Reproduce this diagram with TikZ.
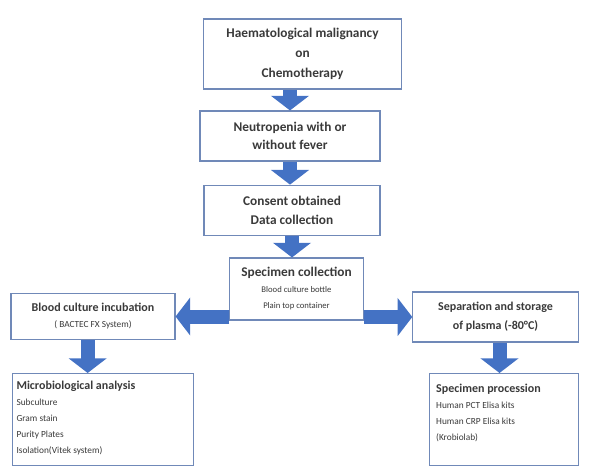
\documentclass[tikz,border=0pt]{standalone}
\usepackage{fontspec}
\setmainfont{Carlito}
\usetikzlibrary{arrows.meta}
\definecolor{boxline}{HTML}{7089B8}
\definecolor{arrowblue}{HTML}{4472C4}
\definecolor{txt}{HTML}{3A3A3A}
\begin{document}
\begin{tikzpicture}[x=0.75pt,y=-0.75pt,
  box/.style={draw=boxline,line width=0.8pt,fill=white,text=txt,align=center,inner sep=2pt},
  bigarrow/.style={draw=arrowblue,line width=10.5pt,-{Triangle[width=28pt,length=11pt]}}]
\useasboundingbox(0,0)rectangle(593,467);
%
\node[box,minimum width=149pt,minimum height=52.5pt,font=\bfseries\fontsize{10}{15}\selectfont](malig)at(302.5,54){Haematological malignancy\\on\\Chemotherapy};
\node[box,minimum width=135pt,minimum height=37.5pt,font=\bfseries\fontsize{10}{14}\selectfont](neutro)at(290,136){Neutropenia with or\\without fever};
\node[box,minimum width=132pt,minimum height=38pt,font=\bfseries\fontsize{10}{14}\selectfont](consent)at(292,210.5){Consent obtained\\Data collection};
\node[box,minimum width=100pt,minimum height=46.5pt](spec)at(296.5,289){{\bfseries\fontsize{10}{13}\selectfont Specimen collection}\\{\fontsize{6.5}{11}\selectfont Blood culture bottle}\\{\fontsize{6.5}{10}\selectfont Plain top container}};
\node[box,minimum width=123pt,minimum height=35pt](blood)at(93,316.5){{\bfseries\fontsize{9}{13}\selectfont Blood culture incubation}\\{\fontsize{7}{11}\selectfont ( BACTEC FX System)}};
\node[box,minimum width=124pt,minimum height=37.5pt,font=\bfseries\fontsize{9}{14}\selectfont](sep)at(495.5,317){Separation and storage\\of plasma (-80°C)};
%text
\node[box,anchor=north west,inner sep=0pt](micro)at(12,373){\parbox[t][69pt][t]{136pt}{\vspace{6pt}\hspace*{3pt}\parbox[t]{130pt}{\raggedright
  {\bfseries\fontsize{9}{13}\selectfont Microbiological analysis}\\
  \fontsize{7}{12}\selectfont Subculture\\Gram stain\\Purity Plates\\Isolation(Vitek system)}}};
\node[box,anchor=north west,inner sep=0pt](proc)at(429,373){\parbox[t][69pt][t]{112pt}{\vspace{8pt}\hspace*{5pt}\parbox[t]{105pt}{\raggedright
  {\bfseries\fontsize{9}{13}\selectfont Specimen procession}\\
  \fontsize{7}{12}\selectfont Human PCT Elisa kits\\Human CRP Elisa kits\\(Krobiolab)}}};
%
\draw[bigarrow](malig.south -| neutro.north)--(neutro.north);
\draw[bigarrow](neutro.south)--(neutro.south |- consent.north);
\draw[bigarrow](consent.south)--(consent.south |- spec.north);
\draw[bigarrow](spec.west |- blood.east)--(blood.east);
\draw[bigarrow](spec.east |- sep.west)--(sep.west);
\draw[bigarrow]([xshift=-4pt]blood.south)--([xshift=-4pt]blood.south |- micro.north);
\draw[bigarrow]([xshift=3pt]sep.south)--([xshift=3pt]sep.south |- proc.north);
\end{tikzpicture}
\end{document}
